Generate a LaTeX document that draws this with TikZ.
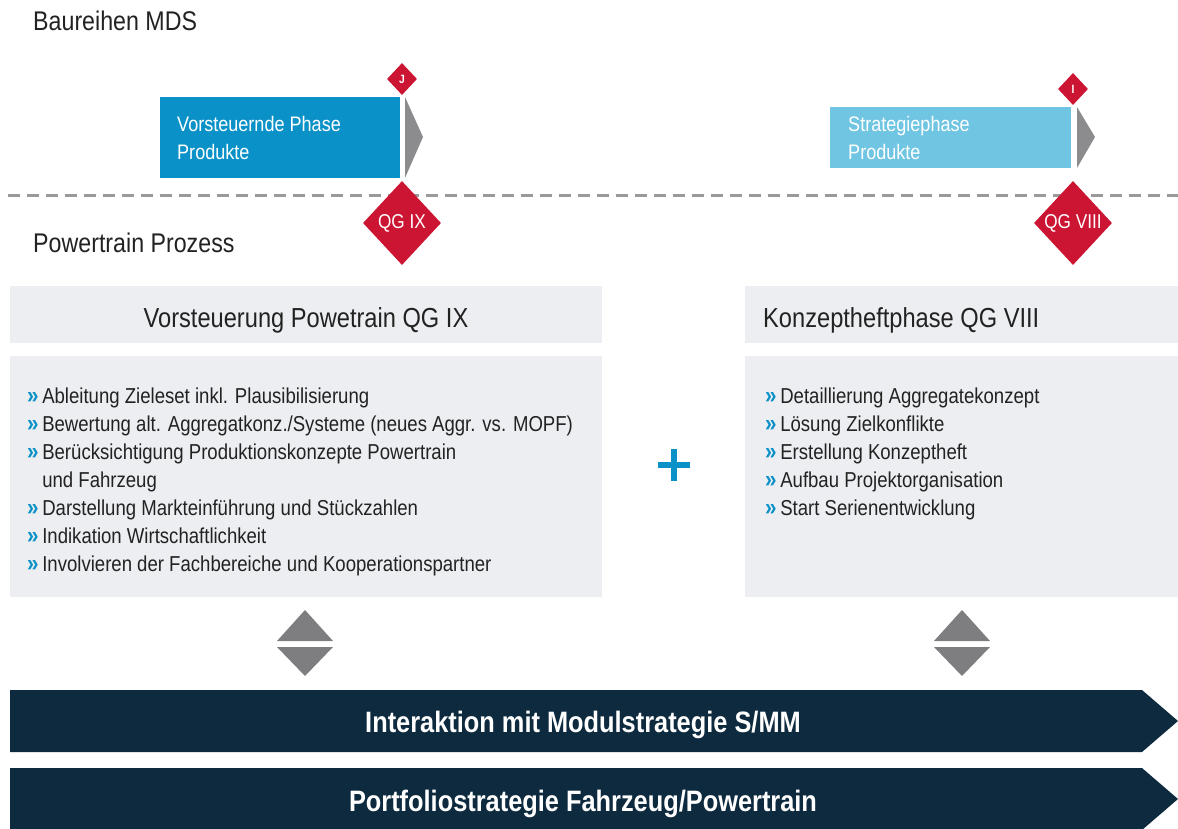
\documentclass[tikz,border=0pt]{standalone}
\usepackage{fontspec}
\setmainfont[FakeStretch=0.86]{Liberation Sans}
\usetikzlibrary{shapes.geometric}
\definecolor{blueA}{HTML}{0991C8}
\definecolor{blueB}{HTML}{70C5E3}
\definecolor{qgred}{HTML}{CC1433}
\definecolor{arrgray}{HTML}{8C8C8E}
\definecolor{boxgray}{HTML}{EDEEF1}
\definecolor{navy}{HTML}{0E2A3F}
\definecolor{dashgray}{HTML}{9A9A9A}
\definecolor{txt}{HTML}{222222}
\newcommand{\bul}{{\color{blueA}\textbf{\fontsize{24}{28}\selectfont »}}\,}
\newcommand{\fs}[2]{\fontsize{#1}{#2}\selectfont}
\tikzset{
  phasetext/.style={text=white, font=\fs{21}{28}, align=left, anchor=north west, inner sep=0},
  gate/.style={diamond, fill=qgred, text=white, inner sep=0, font=\fs{20}{20}},
  smallgate/.style={diamond, fill=qgred, text=white, inner sep=0, font=\bfseries\fs{12}{12}},
  headtext/.style={text=txt, font=\fs{27.5}{30}, inner sep=0},
  listtext/.style={text=txt, font=\fs{21.6}{28}, align=left, anchor=north west, inner sep=0},
  bartext/.style={text=white, font=\bfseries\fs{29.5}{30}, inner sep=0, anchor=base},
  titletext/.style={text=txt, font=\fs{27}{30}, inner sep=0, anchor=base west},
}
\begin{document}
\begin{tikzpicture}[x=1pt,y=-1pt]
\useasboundingbox (0,0) rectangle (1178,829);

% titles
\node[titletext] (t1) at (33,31) {Baureihen MDS};
\node[titletext] (t2) at (33,253) {Powertrain Prozess};

% dashed separator
\draw[dashgray, line width=3pt, dash pattern=on 12pt off 7pt] (8,196) -- (1178,196);

% phase boxes
\fill[blueA] (160,97) rectangle (400,178);
\fill[arrgray] (405,97) -- (423,137) -- (405,178) -- cycle;
\node[phasetext] (p1) at (177,116) {Vorsteuernde Phase\\Produkte};

\fill[blueB] (830,107) rectangle (1071,168);
\fill[arrgray] (1077,107) -- (1095,137) -- (1077,168) -- cycle;
\node[phasetext] (p2) at (848,116) {Strategiephase\\Produkte};

% gates
\node[smallgate, minimum width=30pt, minimum height=32pt] (gJ) at (402,79) {J};
\node[smallgate, minimum width=30pt, minimum height=32pt] (gI) at (1073,89) {I};
\node[gate, minimum width=78pt, minimum height=84pt] (g9) at (402,223) {QG IX};
\node[gate, minimum width=78pt, minimum height=84pt] (g8) at (1073,223) {QG VIII};

% header boxes
\fill[boxgray] (10,286) rectangle (602,343);
\node[headtext, anchor=base] (h1) at (306,327) {Vorsteuerung Powetrain QG IX};
\fill[boxgray] (745,286) rectangle (1178,343);
\node[headtext, anchor=base west] (h2) at (763,327) {Konzeptheftphase QG VIII};

% content boxes
\fill[boxgray] (10,356) rectangle (602,597);
\node[listtext] (l1) at (27,388) {\bul Ableitung Zieleset inkl. Plausibilisierung\\
\bul Bewertung alt. Aggregatkonz./Systeme (neues Aggr. vs. MOPF)\\
\bul Berücksichtigung Produktionskonzepte Powertrain\\
\hphantom{\bul}und Fahrzeug\\
\bul Darstellung Markteinführung und Stückzahlen\\
\bul Indikation Wirtschaftlichkeit\\
\bul Involvieren der Fachbereiche und Kooperationspartner};

\fill[boxgray] (745,356) rectangle (1178,597);
\node[listtext] (l2) at (765,388) {\bul Detaillierung Aggregatekonzept\\
\bul Lösung Zielkonflikte\\
\bul Erstellung Konzeptheft\\
\bul Aufbau Projektorganisation\\
\bul Start Serienentwicklung};

% plus
\fill[blueA] (658,462) rectangle (690,468);
\fill[blueA] (671,449) rectangle (677,481);

% double triangles
\foreach \cx/\nm in {305/dl,962/dr}{
  \fill[arrgray!90!black] (\cx-28,641) -- (\cx,610) -- (\cx+28,641) -- cycle;
  \fill[arrgray!90!black] (\cx-28,647) -- (\cx,676) -- (\cx+28,647) -- cycle;
}

% bars
\fill[navy] (10,690) -- (1142,690) -- (1178,721) -- (1142,752) -- (10,752) -- cycle;
\node[bartext] (b1) at (583,732) {Interaktion mit Modulstrategie S/MM};
\fill[navy] (10,768) -- (1142,768) -- (1178,799) -- (1142,830) -- (10,830) -- cycle;
\node[bartext] (b2) at (583,811) {Portfoliostrategie Fahrzeug/Powertrain};
\end{tikzpicture}
\end{document}
